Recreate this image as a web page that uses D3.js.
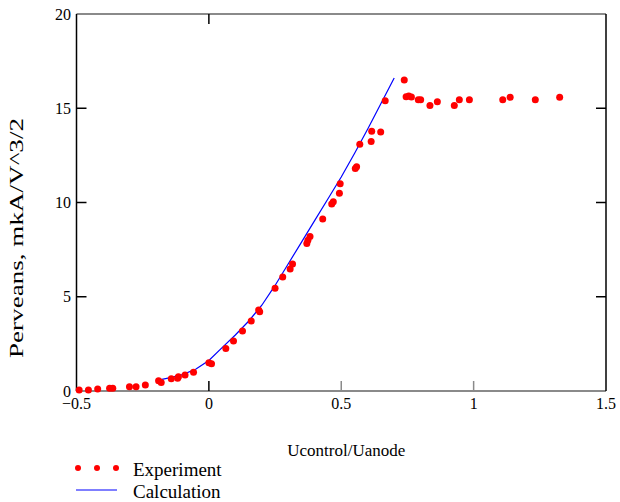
<!DOCTYPE html>
<html>
<head>
<meta charset="utf-8">
<script src="https://cdn.jsdelivr.net/npm/d3@7"></script>
<style>
  body { margin: 0; background: #fff; }
  svg text { font-family: "Liberation Serif", "Times New Roman", serif; fill: #000; }
</style>
</head>
<body>
<div id="chart"></div>
<script>
var expX = [-0.49, -0.455, -0.42, -0.375, -0.363, -0.30, -0.275, -0.24, -0.19, -0.18,
  -0.142, -0.118, -0.115, -0.09, -0.058, 0.0, 0.01, 0.064, 0.093, 0.127,
  0.16, 0.188, 0.192, 0.25, 0.279, 0.307, 0.316, 0.37, 0.374, 0.382,
  0.43, 0.464, 0.47, 0.493, 0.496, 0.553, 0.558, 0.57, 0.613, 0.615,
  0.649, 0.666, 0.738, 0.745, 0.755, 0.765, 0.791, 0.80, 0.835, 0.863,
  0.927, 0.946, 0.984, 1.11, 1.138, 1.233, 1.325];
var expY = [0.05, 0.05, 0.1, 0.15, 0.15, 0.23, 0.23, 0.32, 0.55, 0.45,
  0.65, 0.68, 0.75, 0.85, 1.0, 1.5, 1.45, 2.25, 2.65, 3.18,
  3.71, 4.3, 4.2, 5.45, 6.05, 6.47, 6.74, 7.83, 8.0, 8.19,
  9.12, 9.92, 10.04, 10.49, 11.0, 11.8, 11.9, 13.09, 13.23, 13.78,
  13.74, 15.4, 16.5, 15.61, 15.65, 15.6, 15.45, 15.45, 15.14, 15.35,
  15.14, 15.45, 15.45, 15.45, 15.58, 15.45, 15.58];

var calcX = [-0.2, -0.15, -0.1, -0.05, 0, 0.05, 0.1, 0.15, 0.2, 0.25,
  0.3, 0.35, 0.4, 0.45, 0.5, 0.55, 0.6, 0.65, 0.7];
var calcY = [0.55, 0.7, 0.87, 1.15, 1.62, 2.3, 2.97, 3.7, 4.55, 5.6,
  6.75, 7.9, 9.05, 10.2, 11.35, 12.6, 13.9, 15.25, 16.6];

var xTicks = [-0.5, 0, 0.5, 1, 1.5];
var yTicks = [0, 5, 10, 15, 20];
var xLabel = 'Ucontrol/Uanode';
var yLabel = 'Perveans, mkA/V^3/2';
var legendNames = ['Experiment', 'Calculation'];

var width = 620;
var height = 502;
var plot = { left: 76.5, right: 606, top: 14, bottom: 391 };

var svg = d3.select('#chart').append('svg')
  .attr('width', width)
  .attr('height', height);

var x = d3.scaleLinear().domain([-0.5, 1.5]).range([plot.left, plot.right]);
var y = d3.scaleLinear().domain([0, 20]).range([plot.bottom, plot.top]);

// frame: top/bottom grey, left/right black
var frame = svg.append('g');
frame.append('line')
  .attr('x1', plot.left).attr('x2', plot.right)
  .attr('y1', plot.top).attr('y2', plot.top)
  .attr('stroke', '#8a8a8a').attr('stroke-width', 2);
frame.append('line')
  .attr('x1', plot.left).attr('x2', plot.right)
  .attr('y1', plot.bottom).attr('y2', plot.bottom)
  .attr('stroke', '#8a8a8a').attr('stroke-width', 2);
frame.append('line')
  .attr('x1', plot.left).attr('x2', plot.left)
  .attr('y1', plot.top).attr('y2', plot.bottom)
  .attr('stroke', '#000').attr('stroke-width', 1.5);
frame.append('line')
  .attr('x1', plot.right).attr('x2', plot.right)
  .attr('y1', plot.top).attr('y2', plot.bottom)
  .attr('stroke', '#000').attr('stroke-width', 1.5);

// ticks
var tickLen = 10;
frame.selectAll('.xtick')
  .data(xTicks.slice(1, -1))
  .enter().append('line')
  .attr('class', 'xtick')
  .attr('x1', function (d) { return x(d); })
  .attr('x2', function (d) { return x(d); })
  .attr('y1', plot.bottom)
  .attr('y2', plot.bottom - tickLen)
  .attr('stroke', function (d) { return d === 0 ? '#000' : '#8a8a8a'; })
  .attr('stroke-width', 1.5);
frame.append('line')
  .attr('x1', x(0)).attr('x2', x(0))
  .attr('y1', plot.top).attr('y2', plot.top + tickLen)
  .attr('stroke', '#000').attr('stroke-width', 1.5);
frame.selectAll('.ytickl')
  .data(yTicks.slice(1, -1))
  .enter().append('line')
  .attr('class', 'ytickl')
  .attr('x1', plot.left)
  .attr('x2', plot.left + tickLen)
  .attr('y1', function (d) { return y(d); })
  .attr('y2', function (d) { return y(d); })
  .attr('stroke', '#000').attr('stroke-width', 1.5);
frame.selectAll('.ytickr')
  .data(yTicks.slice(1, -1))
  .enter().append('line')
  .attr('class', 'ytickr')
  .attr('x1', plot.right)
  .attr('x2', plot.right - tickLen)
  .attr('y1', function (d) { return y(d); })
  .attr('y2', function (d) { return y(d); })
  .attr('stroke', '#000').attr('stroke-width', 1.5);

// tick labels
svg.selectAll('.xlab')
  .data(xTicks)
  .enter().append('text')
  .attr('class', 'xlab')
  .attr('x', function (d) { return x(d); })
  .attr('y', 409)
  .attr('text-anchor', 'middle')
  .style('font-size', '16px')
  .text(function (d) { return d < 0 ? '\u2212' + String(-d) : String(d); });
svg.selectAll('.ylab')
  .data(yTicks)
  .enter().append('text')
  .attr('class', 'ylab')
  .attr('x', 71)
  .attr('y', function (d) { return y(d); })
  .attr('dy', '0.35em')
  .attr('text-anchor', 'end')
  .style('font-size', '16px')
  .text(function (d) { return d; });

// axis titles
svg.append('text')
  .attr('x', (plot.left + plot.right) / 2 + 5)
  .attr('y', 456)
  .attr('text-anchor', 'middle')
  .style('font-size', '17px')
  .text(xLabel);
svg.append('text')
  .attr('transform', 'translate(23,238) rotate(-90)')
  .attr('text-anchor', 'middle')
  .attr('textLength', 240)
  .attr('lengthAdjust', 'spacingAndGlyphs')
  .style('font-size', '18px')
  .text(yLabel);

// calculation line
var line = d3.line()
  .x(function (d, i) { return x(calcX[i]); })
  .y(function (d) { return y(d); });
svg.append('path')
  .datum(calcY)
  .attr('d', line)
  .attr('fill', 'none')
  .attr('stroke', '#0000ff')
  .attr('stroke-width', 1.2);

// experiment points
svg.append('g').selectAll('circle')
  .data(expY)
  .enter().append('circle')
  .attr('cx', function (d, i) { return x(expX[i]); })
  .attr('cy', function (d) { return y(d); })
  .attr('r', 3.5)
  .attr('fill', '#ff0000');

// legend
var legend = svg.append('g');
legend.selectAll('circle')
  .data([78, 97, 116])
  .enter().append('circle')
  .attr('cx', function (d) { return d; })
  .attr('cy', 468)
  .attr('r', 3)
  .attr('fill', '#ff0000');
legend.append('line')
  .attr('x1', 76).attr('x2', 117)
  .attr('y1', 490).attr('y2', 490)
  .attr('stroke', '#0000ff').attr('stroke-width', 1.2);
legend.selectAll('text')
  .data(legendNames)
  .enter().append('text')
  .attr('x', 133)
  .attr('y', function (d, i) { return 476 + i * 22; })
  .style('font-size', '19px')
  .text(function (d) { return d; });
</script>
</body>
</html>
